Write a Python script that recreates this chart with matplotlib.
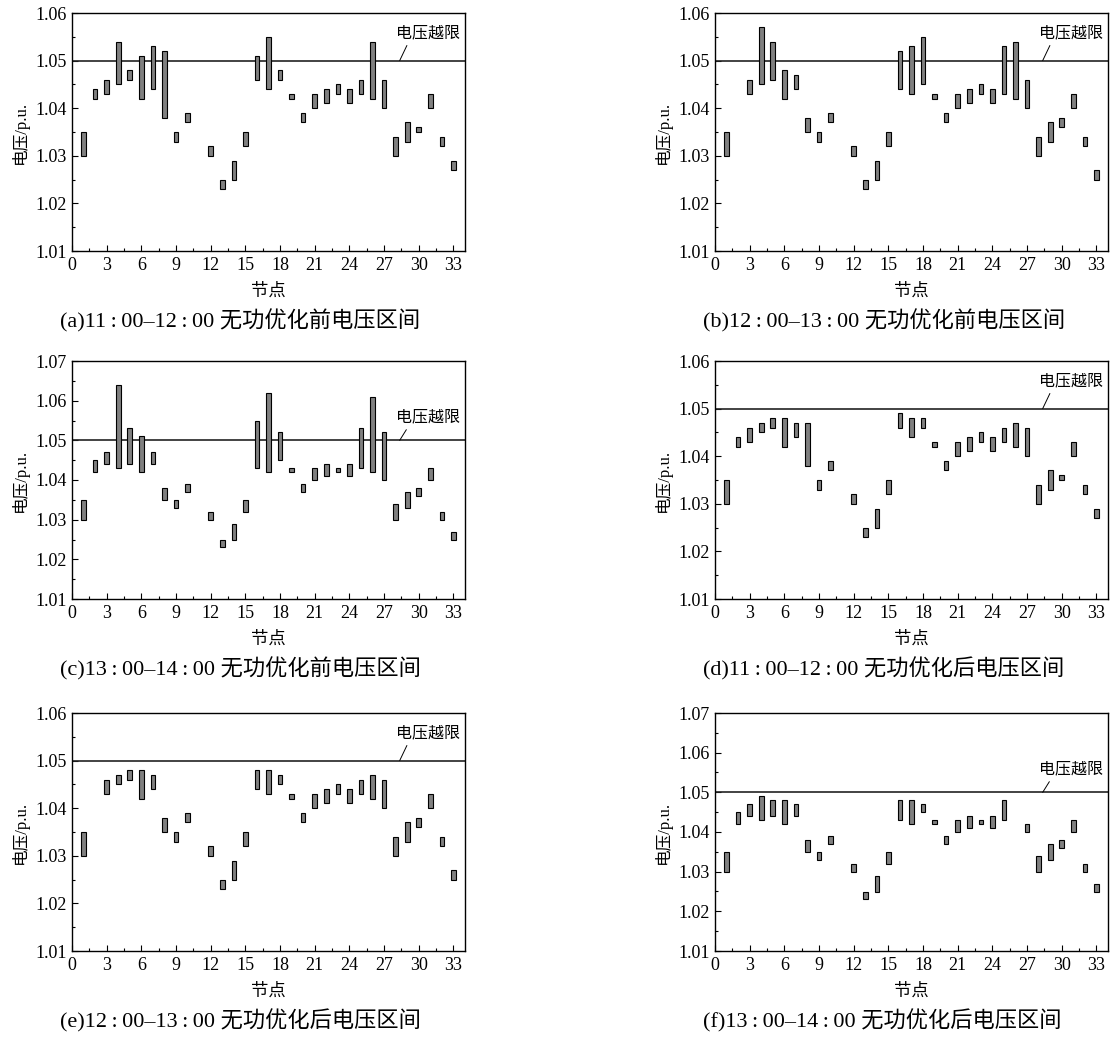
import numpy as np
import matplotlib
matplotlib.use('Agg')
from matplotlib import pyplot as plt
from matplotlib.ticker import MultipleLocator, FormatStrFormatter

plt.rcParams['font.family'] = ['Liberation Serif', 'Noto Sans CJK SC']
plt.rcParams['axes.unicode_minus'] = False

# 节点编号 (11 号节点在所有子图中都没有区间)
nodes_full = [1, 2, 3, 4, 5, 6, 7, 8, 9, 10, 12, 13, 14, 15, 16, 17, 18, 19, 20,
              21, 22, 23, 24, 25, 26, 27, 28, 29, 30, 31, 32, 33]
nodes_no2 = [1, 3, 4, 5, 6, 7, 8, 9, 10, 12, 13, 14, 15, 16, 17, 18, 19, 20,
             21, 22, 23, 24, 25, 26, 27, 28, 29, 30, 31, 32, 33]
nodes_no26 = [1, 2, 3, 4, 5, 6, 7, 8, 9, 10, 12, 13, 14, 15, 16, 17, 18, 19, 20,
              21, 22, 23, 24, 25, 27, 28, 29, 30, 31, 32, 33]

# (a) 11:00-12:00 优化前
low_a = [1.030, 1.042, 1.043, 1.045, 1.046, 1.042, 1.044, 1.038, 1.033, 1.037,
         1.030, 1.023, 1.025, 1.032, 1.046, 1.044, 1.046, 1.042, 1.037, 1.040,
         1.041, 1.043, 1.041, 1.043, 1.042, 1.040, 1.030, 1.033, 1.035, 1.040,
         1.032, 1.027]
high_a = [1.035, 1.044, 1.046, 1.054, 1.048, 1.051, 1.053, 1.052, 1.035, 1.039,
          1.032, 1.025, 1.029, 1.035, 1.051, 1.055, 1.048, 1.043, 1.039, 1.043,
          1.044, 1.045, 1.044, 1.046, 1.054, 1.046, 1.034, 1.037, 1.036, 1.043,
          1.034, 1.029]

# (b) 12:00-13:00 优化前
low_b = [1.030, 1.043, 1.045, 1.046, 1.042, 1.044, 1.035, 1.033, 1.037,
         1.030, 1.023, 1.025, 1.032, 1.044, 1.043, 1.045, 1.042, 1.037, 1.040,
         1.041, 1.043, 1.041, 1.043, 1.042, 1.040, 1.030, 1.033, 1.036, 1.040,
         1.032, 1.025]
high_b = [1.035, 1.046, 1.057, 1.054, 1.048, 1.047, 1.038, 1.035, 1.039,
          1.032, 1.025, 1.029, 1.035, 1.052, 1.053, 1.055, 1.043, 1.039, 1.043,
          1.044, 1.045, 1.044, 1.053, 1.054, 1.046, 1.034, 1.037, 1.038, 1.043,
          1.034, 1.027]

# (c) 13:00-14:00 优化前
low_c = [1.030, 1.042, 1.044, 1.043, 1.044, 1.042, 1.044, 1.035, 1.033, 1.037,
         1.030, 1.023, 1.025, 1.032, 1.043, 1.042, 1.045, 1.042, 1.037, 1.040,
         1.041, 1.042, 1.041, 1.043, 1.042, 1.040, 1.030, 1.033, 1.036, 1.040,
         1.030, 1.025]
high_c = [1.035, 1.045, 1.047, 1.064, 1.053, 1.051, 1.047, 1.038, 1.035, 1.039,
          1.032, 1.025, 1.029, 1.035, 1.055, 1.062, 1.052, 1.043, 1.039, 1.043,
          1.044, 1.043, 1.044, 1.053, 1.061, 1.052, 1.034, 1.037, 1.038, 1.043,
          1.032, 1.027]

# (d) 11:00-12:00 优化后
low_d = [1.030, 1.042, 1.043, 1.045, 1.046, 1.042, 1.044, 1.038, 1.033, 1.037,
         1.030, 1.023, 1.025, 1.032, 1.046, 1.044, 1.046, 1.042, 1.037, 1.040,
         1.041, 1.043, 1.041, 1.043, 1.042, 1.040, 1.030, 1.033, 1.035, 1.040,
         1.032, 1.027]
high_d = [1.035, 1.044, 1.046, 1.047, 1.048, 1.048, 1.047, 1.047, 1.035, 1.039,
          1.032, 1.025, 1.029, 1.035, 1.049, 1.048, 1.048, 1.043, 1.039, 1.043,
          1.044, 1.045, 1.044, 1.046, 1.047, 1.046, 1.034, 1.037, 1.036, 1.043,
          1.034, 1.029]

# (e) 12:00-13:00 优化后
low_e = [1.030, 1.043, 1.045, 1.046, 1.042, 1.044, 1.035, 1.033, 1.037,
         1.030, 1.023, 1.025, 1.032, 1.044, 1.043, 1.045, 1.042, 1.037, 1.040,
         1.041, 1.043, 1.041, 1.043, 1.042, 1.040, 1.030, 1.033, 1.036, 1.040,
         1.032, 1.025]
high_e = [1.035, 1.046, 1.047, 1.048, 1.048, 1.047, 1.038, 1.035, 1.039,
          1.032, 1.025, 1.029, 1.035, 1.048, 1.048, 1.047, 1.043, 1.039, 1.043,
          1.044, 1.045, 1.044, 1.046, 1.047, 1.046, 1.034, 1.037, 1.038, 1.043,
          1.034, 1.027]

# (f) 13:00-14:00 优化后
low_f = [1.030, 1.042, 1.044, 1.043, 1.044, 1.042, 1.044, 1.035, 1.033, 1.037,
         1.030, 1.023, 1.025, 1.032, 1.043, 1.042, 1.045, 1.042, 1.037, 1.040,
         1.041, 1.042, 1.041, 1.043, 1.040, 1.030, 1.033, 1.036, 1.040,
         1.030, 1.025]
high_f = [1.035, 1.045, 1.047, 1.049, 1.048, 1.048, 1.047, 1.038, 1.035, 1.039,
          1.032, 1.025, 1.029, 1.035, 1.048, 1.048, 1.047, 1.043, 1.039, 1.043,
          1.044, 1.043, 1.044, 1.048, 1.042, 1.034, 1.037, 1.038, 1.043,
          1.032, 1.027]

# 时段里的冒号两边留细空格, 跟原图排版一致
c = '\u2009:\u2009'
captions = ['(a)11' + c + '00–12' + c + '00 无功优化前电压区间',
            '(b)12' + c + '00–13' + c + '00 无功优化前电压区间',
            '(c)13' + c + '00–14' + c + '00 无功优化前电压区间',
            '(d)11' + c + '00–12' + c + '00 无功优化后电压区间',
            '(e)12' + c + '00–13' + c + '00 无功优化后电压区间',
            '(f)13' + c + '00–14' + c + '00 无功优化后电压区间']
ytops = [1.06, 1.06, 1.07, 1.06, 1.06, 1.07]
limit = 1.05

panels = [(nodes_full, low_a, high_a), (nodes_no2, low_b, high_b),
          (nodes_full, low_c, high_c), (nodes_full, low_d, high_d),
          (nodes_no2, low_e, high_e), (nodes_no26, low_f, high_f)]

W, H = 1110, 1041
fig = plt.figure(figsize=(W / 100, H / 100), dpi=100)

lefts = [72, 715]
tops = [13, 361, 713]
aw, ah = 393, 238

for i, (nodes, lo, hi) in enumerate(panels):
    row, col = i // 2, i % 2
    l, t = lefts[col], tops[row]
    ax = fig.add_axes([l / W, 1 - (t + ah) / H, aw / W, ah / H])
    lo = np.array(lo)
    hi = np.array(hi)
    ax.bar(nodes, hi - lo, bottom=lo, width=0.4, color='#808080',
           edgecolor='black', linewidth=0.8, zorder=3)
    ax.axhline(limit, color='#222222', linewidth=1.2, zorder=2)
    ax.annotate('电压越限', xy=(28.35, limit), xytext=(30.8, 1.0557),
                ha='center', va='center', fontsize=11.5,
                arrowprops=dict(arrowstyle='-', color='black', lw=0.7,
                                shrinkA=1, shrinkB=0, relpos=(0.2, 0)))
    ax.set_xlim(0, 34)
    ax.set_ylim(1.01, ytops[i])
    ax.xaxis.set_major_locator(MultipleLocator(3))
    ax.xaxis.set_minor_locator(MultipleLocator(1.5))
    ax.yaxis.set_major_locator(MultipleLocator(0.01))
    ax.yaxis.set_minor_locator(MultipleLocator(0.005))
    ax.yaxis.set_major_formatter(FormatStrFormatter('%.2f'))
    ax.tick_params(which='both', direction='in', top=False, right=False,
                   labelsize=13, pad=4)
    ax.tick_params(which='major', length=4, width=0.8)
    ax.tick_params(which='minor', length=2.5, width=0.8)
    for s in ax.spines.values():
        s.set_linewidth(1.0)
    ax.set_xlabel('节点', fontsize=12.5, labelpad=7)
    ax.set_ylabel('电压/p.u.', fontsize=12, labelpad=4)
    fig.text((l - 12) / W, 1 - (t + 308) / H, captions[i], fontsize=16,
             ha='left', va='center')

fig.savefig('out.png', dpi=100)
